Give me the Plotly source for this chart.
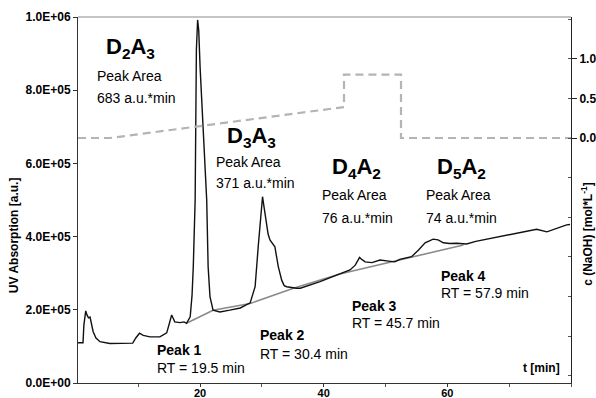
import plotly.graph_objects as go

# ---- data ----
t_uv = [0.25, 1.06, 1.2, 1.5, 1.7, 1.95, 2.2, 2.7, 3.16, 3.8, 5.4, 7.0, 9.1, 9.6, 10.2, 10.8,
        11.9, 13.5, 14.6, 15.05, 15.4, 15.7, 15.9, 16.75, 17.4, 17.8, 18.4, 18.7, 18.9, 19.2,
        19.3, 19.4, 19.6, 19.78, 20.0, 20.5, 21.07, 21.3, 21.6, 22.1, 23.2, 24.8, 26.5, 28.1,
        28.9, 29.4, 29.9, 30.1, 30.3, 30.7, 31.0, 31.3, 31.8, 32.1, 32.65, 33.2, 33.6, 34.0,
        35.6, 36.2, 39.4, 42.6, 44.25, 45.1, 45.8, 46.2, 46.7, 47.8, 49.1, 50.5, 51.5, 52.3,
        54.2, 55.3, 56.4, 57.7, 58.5, 59.35, 60.4, 61.5, 63.1, 64.6, 66.4, 67.9, 69.6, 71.1,
        72.8, 74.45, 76.1, 77.7, 79.3, 79.85]
uv = [110e3, 110e3, 158e3, 197e3, 186e3, 178e3, 180e3, 140e3, 123e3, 113e3, 108e3, 108e3,
      109e3, 123e3, 136e3, 130e3, 126e3, 126e3, 137e3, 164e3, 186e3, 175e3, 167e3, 165e3,
      167e3, 163e3, 181e3, 240e3, 318e3, 500e3, 718e3, 910e3, 992e3, 964e3, 863e3, 695e3,
      500e3, 318e3, 236e3, 199e3, 194e3, 199e3, 205e3, 219e3, 263e3, 372e3, 473e3, 509e3,
      486e3, 445e3, 407e3, 391e3, 380e3, 372e3, 318e3, 281e3, 266e3, 263e3, 259e3, 259e3,
      277e3, 298e3, 309e3, 322e3, 343e3, 337e3, 331e3, 329e3, 336e3, 333e3, 331e3, 338e3,
      345e3, 363e3, 383e3, 393e3, 391e3, 383e3, 381e3, 382e3, 380e3, 387e3, 393e3, 398e3,
      404e3, 408e3, 413e3, 420e3, 413e3, 423e3, 432e3, 433e3]

t_base = [17.8, 22.1, 28.1, 35.1, 42.6, 62.6]
base = [163e3, 199e3, 217e3, 259e3, 298e3, 377e3]

t_naoh = [0.25, 5.43, 43.28, 43.28, 52.5, 52.5, 80.0]
c_naoh = [0.0, 0.0, 0.39, 0.8, 0.8, 0.0, 0.0]

y_tickvals = [0, 2e5, 4e5, 6e5, 8e5, 1e6]
y_ticktext = ["0.0E+00", "2.0E+05", "4.0E+05", "6.0E+05", "8.0E+05", "1.0E+06"]
x_tickvals = [20, 40, 60]
y2_tickvals = [0.0, 0.5, 1.0]
y2_ticktext = ["0.0", "0.5", "1.0"]

species = ["D<sub>2</sub>A<sub>3</sub>", "D<sub>3</sub>A<sub>3</sub>",
           "D<sub>4</sub>A<sub>2</sub>", "D<sub>5</sub>A<sub>2</sub>"]
areas = ["683 a.u.*min", "371 a.u.*min", "76 a.u.*min", "74 a.u.*min"]
peak_names = ["Peak 1", "Peak 2", "Peak 3", "Peak 4"]
rts = ["RT = 19.5 min", "RT = 30.4 min", "RT = 45.7 min", "RT = 57.9 min"]

FONT = "Liberation Sans, Arial, sans-serif"

fig = go.Figure()
fig.add_trace(go.Scatter(x=t_naoh, y=c_naoh, yaxis="y2", mode="lines",
                         line=dict(color="#b4b4b4", width=2.2, dash="8px,5px"),
                         showlegend=False))
fig.add_trace(go.Scatter(x=t_base, y=base, mode="lines",
                         line=dict(color="#8a8a8a", width=1.6), showlegend=False))
fig.add_trace(go.Scatter(x=t_uv, y=uv, mode="lines",
                         line=dict(color="#111111", width=1.4), showlegend=False))

ann = []
sp_pos = [(4.5, 915e3), (24.0, 672e3), (41.0, 587e3), (58.0, 587e3)]
pa_pos = [(3.0, 839e3, 779e3), (22.25, 604e3, 546e3), (39.4, 514e3, 451e3), (56.2, 514e3, 451e3)]
for (sx, sy), (px, py1, py2), s, a in zip(sp_pos, pa_pos, species, areas):
    ann.append(dict(x=sx, y=sy, text=s, xanchor="left", yanchor="middle", showarrow=False,
                    font=dict(size=22, weight="bold", color="black")))
    ann.append(dict(x=px, y=py1, text="Peak Area", xanchor="left", yanchor="middle",
                    showarrow=False, font=dict(size=14, color="black")))
    ann.append(dict(x=px, y=py2, text=a, xanchor="left", yanchor="middle",
                    showarrow=False, font=dict(size=14, color="black")))

pk_pos = [(12.7, 90e3, 41e3), (29.4, 131e3, 79e3), (44.25, 210e3, 164e3), (58.7, 292e3, 246e3)]
for (px, py1, py2), n, r in zip(pk_pos, peak_names, rts):
    ann.append(dict(x=px, y=py1, text=n, xanchor="left", yanchor="middle", showarrow=False,
                    font=dict(size=14, weight="bold", color="black")))
    ann.append(dict(x=px, y=py2, text=r, xanchor="left", yanchor="middle", showarrow=False,
                    font=dict(size=14, color="black")))

ann.append(dict(x=78.55, y=41e3, text="t [min]", xanchor="right", yanchor="middle",
                showarrow=False, font=dict(size=12, weight="bold", color="black")))
ann.append(dict(xref="paper", yref="paper", x=-0.1298, y=0.404, text="UV Absorption [a.u.]",
                textangle=-90, showarrow=False, xanchor="center", yanchor="middle",
                font=dict(size=12, weight="bold", color="black")))
ann.append(dict(xref="paper", yref="paper", x=1.032, y=0.407,
                text="c (NaOH) [mol*L<sup>-1</sup>]",
                textangle=-90, showarrow=False, xanchor="center", yanchor="middle",
                font=dict(size=12, weight="bold", color="black")))

fig.update_layout(
    width=596, height=398,
    margin=dict(l=78, r=25, t=17, b=15, autoexpand=False),
    paper_bgcolor="white", plot_bgcolor="white",
    font=dict(family=FONT, color="black"),
    annotations=ann,
    xaxis=dict(range=[0.25, 80], tickvals=x_tickvals, ticks="outside", ticklen=3,
               tickcolor="#333", showgrid=False, zeroline=False, showline=True,
               linecolor="#333", linewidth=1, automargin=False, ticklabelstandoff=-3,
               tickfont=dict(size=11, weight="bold", color="black"),
               minor=dict(dtick=10, tick0=0, ticks="outside", ticklen=3, tickcolor="#555")),
    yaxis=dict(range=[0, 1e6], tickvals=y_tickvals, ticktext=y_ticktext, ticks="outside",
               ticklen=4, tickcolor="#333", showgrid=False, zeroline=False, showline=True,
               linecolor="#333", linewidth=1, automargin=False,
               tickfont=dict(size=12, weight="bold", color="black")),
    yaxis2=dict(range=[-3.09, 1.526], overlaying="y", side="right", tickvals=y2_tickvals,
                ticktext=y2_ticktext, ticks="outside", ticklen=5, tickcolor="#222",
                showgrid=False, zeroline=False, showline=True, linecolor="#222",
                linewidth=1, automargin=False,
                tickfont=dict(size=12, weight="bold", color="black"),
                minor=dict(dtick=0.5, tick0=0, ticks="inside", ticklen=3, tickcolor="#555")),
    shapes=[dict(type="line", xref="paper", yref="paper", x0=0, x1=1, y0=1, y1=1,
                 line=dict(color="#888", width=1))],
)

fig.write_html("out.html")
